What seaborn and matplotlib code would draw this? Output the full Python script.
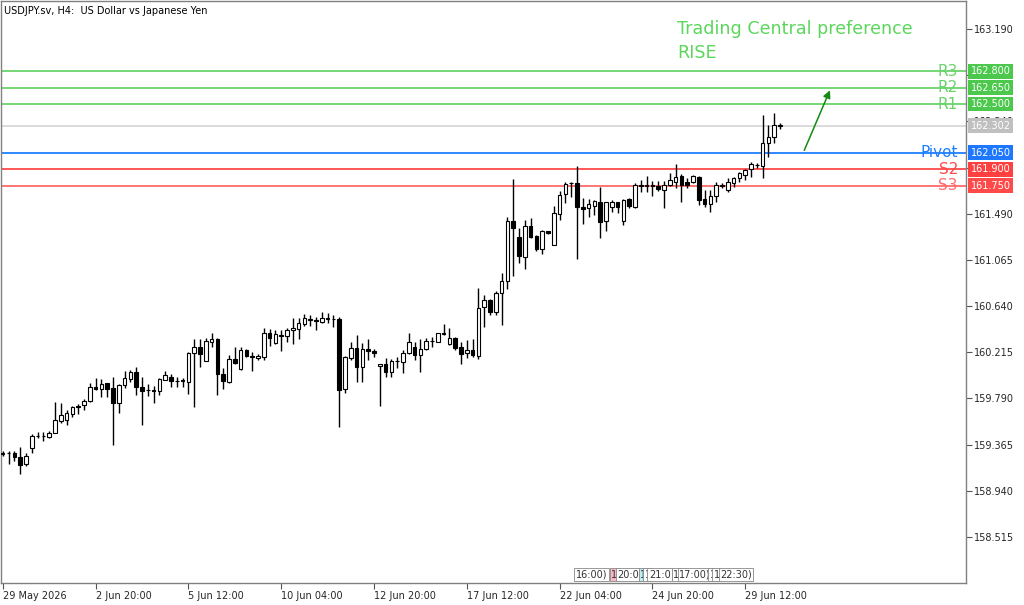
import numpy as np
import pandas as pd
import matplotlib
matplotlib.use("Agg")
import matplotlib.pyplot as plt
import seaborn as sns

# H4 candles
opens = [159.283, 159.285, 159.285, 159.248, 159.187, 159.334, 159.445, 159.449, 159.433, 159.475,
         159.585, 159.592, 159.647, 159.723, 159.727, 159.769, 159.898, 159.874, 159.930, 159.883,
         159.745, 159.914, 159.966, 160.034, 159.895, 159.868, 159.872, 159.856, 159.960, 159.985,
         159.955, 159.957, 159.942, 160.211, 160.266, 160.137, 160.312, 160.340, 160.015, 159.944,
         160.153, 160.058, 160.233, 160.184, 160.160, 160.174, 160.390, 160.298, 160.374, 160.365,
         160.420, 160.432, 160.478, 160.521, 160.512, 160.496, 160.526, 160.521, 160.518, 159.874,
         160.160, 160.252, 160.082, 160.245, 160.227, 160.091, 160.107, 160.036, 160.135, 160.128,
         160.211, 160.266, 160.190, 160.242, 160.319, 160.312, 160.390, 160.288, 160.344, 160.266,
         160.206, 160.236, 160.184, 160.629, 160.696, 160.586, 160.763, 160.874, 161.426, 161.273,
         161.095, 161.377, 161.285, 161.163, 161.328, 161.202, 161.488, 161.672, 161.770, 161.770,
         161.555, 161.540, 161.564, 161.601, 161.426, 161.552, 161.595, 161.423, 161.623, 161.555,
         161.748, 161.745, 161.752, 161.748, 161.708, 161.754, 161.785, 161.840, 161.779, 161.779,
         161.831, 161.623, 161.580, 161.656, 161.748, 161.708, 161.770, 161.816, 161.847, 161.902,
         161.939, 161.932, 162.138, 162.199, 162.302]
highs = [159.306, 159.309, 159.306, 159.346, 159.285, 159.463, 159.484, 159.484, 159.488, 159.755,
         159.751, 159.684, 159.721, 159.739, 159.788, 159.935, 159.976, 159.966, 159.935, 159.985,
         159.923, 160.046, 160.052, 160.077, 159.985, 159.923, 159.905, 159.976, 160.043, 160.015,
         159.985, 159.978, 160.218, 160.340, 160.334, 160.349, 160.390, 160.346, 160.068, 160.187,
         160.261, 160.266, 160.248, 160.218, 160.196, 160.436, 160.427, 160.420, 160.420, 160.436,
         160.528, 160.528, 160.567, 160.558, 160.542, 160.583, 160.579, 160.558, 160.542, 160.184,
         160.307, 160.374, 160.298, 160.334, 160.242, 160.107, 160.160, 160.150, 160.174, 160.236,
         160.390, 160.312, 160.334, 160.344, 160.358, 160.395, 160.475, 160.436, 160.358, 160.312,
         160.328, 160.334, 160.804, 160.742, 160.705, 160.782, 160.947, 161.457, 161.807, 161.356,
         161.432, 161.448, 161.294, 161.340, 161.334, 161.561, 161.702, 161.785, 161.785, 161.929,
         161.632, 161.623, 161.617, 161.739, 161.601, 161.617, 161.601, 161.626, 161.632, 161.770,
         161.800, 161.840, 161.791, 161.791, 161.791, 161.862, 161.948, 161.853, 161.822, 161.847,
         161.837, 161.708, 161.708, 161.779, 161.776, 161.816, 161.831, 161.877, 161.902, 161.969,
         161.954, 162.399, 162.307, 162.414, 162.322]
lows = [159.260, 159.187, 159.217, 159.092, 159.168, 159.285, 159.423, 159.401, 159.423, 159.472,
        159.561, 159.546, 159.622, 159.644, 159.684, 159.760, 159.872, 159.801, 159.801, 159.362,
        159.659, 159.883, 159.944, 159.819, 159.543, 159.813, 159.745, 159.822, 159.957, 159.898,
        159.893, 159.898, 159.831, 159.714, 160.077, 160.135, 160.261, 159.822, 159.880, 159.930,
        160.107, 160.056, 160.169, 160.046, 160.144, 160.144, 160.273, 160.296, 160.227, 160.312,
        160.291, 160.340, 160.457, 160.457, 160.420, 160.482, 160.482, 160.450, 159.530, 159.837,
        160.144, 159.944, 159.944, 160.144, 160.174, 159.721, 159.990, 159.985, 160.068, 160.021,
        160.199, 160.144, 160.036, 160.236, 160.266, 160.310, 160.374, 160.282, 160.236, 160.104,
        160.165, 160.174, 160.150, 160.450, 160.558, 160.558, 160.466, 160.795, 160.917, 161.034,
        160.979, 161.264, 161.150, 161.119, 161.304, 161.200, 161.432, 161.586, 161.647, 161.071,
        161.393, 161.463, 161.478, 161.267, 161.334, 161.509, 161.494, 161.386, 161.540, 161.543,
        161.687, 161.687, 161.653, 161.699, 161.540, 161.750, 161.724, 161.601, 161.724, 161.770,
        161.570, 161.555, 161.509, 161.601, 161.724, 161.693, 161.739, 161.785, 161.800, 161.831,
        161.908, 161.816, 162.015, 162.138, 162.270]
closes = [159.288, 159.285, 159.248, 159.180, 159.263, 159.445, 159.449, 159.445, 159.475, 159.592,
          159.635, 159.653, 159.714, 159.714, 159.769, 159.898, 159.877, 159.923, 159.877, 159.745,
          159.911, 159.976, 160.034, 159.893, 159.856, 159.865, 159.863, 159.966, 160.003, 159.948,
          159.951, 159.951, 160.211, 160.266, 160.196, 160.319, 160.340, 160.015, 159.953, 160.150,
          160.114, 160.233, 160.184, 160.169, 160.181, 160.390, 160.344, 160.383, 160.369, 160.420,
          160.436, 160.487, 160.528, 160.512, 160.503, 160.528, 160.530, 160.518, 159.868, 160.169,
          160.252, 160.082, 160.242, 160.227, 160.211, 160.104, 160.036, 160.135, 160.132, 160.211,
          160.312, 160.190, 160.242, 160.319, 160.316, 160.390, 160.380, 160.344, 160.252, 160.196,
          160.236, 160.190, 160.625, 160.696, 160.583, 160.763, 160.874, 161.426, 161.356, 161.101,
          161.377, 161.279, 161.163, 161.334, 161.310, 161.500, 161.662, 161.764, 161.773, 161.549,
          161.536, 161.580, 161.610, 161.414, 161.595, 161.595, 161.549, 161.617, 161.564, 161.754,
          161.752, 161.754, 161.745, 161.718, 161.754, 161.800, 161.831, 161.754, 161.754, 161.837,
          161.617, 161.580, 161.656, 161.754, 161.752, 161.779, 161.822, 161.862, 161.893, 161.945,
          161.941, 162.138, 162.199, 162.307, 162.302]

tick_labels = ["29 May 2026", "2 Jun 20:00", "5 Jun 12:00", "10 Jun 04:00", "12 Jun 20:00",
               "17 Jun 12:00", "22 Jun 04:00", "24 Jun 20:00", "29 Jun 12:00"]
bars_per_tick = 16

level_names = ["R3", "R2", "R1", "Pivot", "S2", "S3"]
level_values = [162.800, 162.650, 162.500, 162.050, 161.900, 161.750]
line_colors = ["#6ad36a", "#6ad36a", "#6ad36a", "#1f7fff", "#ff4a4a", "#ff6a6a"]
box_colors = ["#4cc84c", "#4cc84c", "#4cc84c", "#1e78ff", "#ff4040", "#ff4a4a"]
last_price = 162.302

price_ticks = np.round(np.arange(158.515, 163.2, 0.425), 3)

# economic calendar flags along the bottom (label, bar position, fill)
events = [("16:00)", 98.8, "white"), ("1", 104.9, "#f7b9c4"), ("20:0", 105.9, "white"),
          ("1", 109.9, "#b9eef2"), ("1", 110.7, "white"), ("21:0", 111.4, "white"),
          ("1", 115.6, "white"), ("17:00)", 116.6, "white"), ("1", 121.9, "white"),
          ("1", 122.6, "white"), ("22:30)", 123.7, "white")]

df = pd.DataFrame({"o": opens, "h": highs, "l": lows, "c": closes})
df["i"] = np.arange(len(df))
df["up"] = df["c"] >= df["o"]
df["bottom"] = df[["o", "c"]].min(axis=1)
df["height"] = (df["c"] - df["o"]).abs().clip(lower=0.004)

sns.set_theme(style="white")
plt.rcParams["font.family"] = ["DejaVu Sans"]

fig = plt.figure(figsize=(10.24, 6.05), dpi=100)
ax = fig.add_axes([1 / 1024, 22 / 605, 965 / 1024, 582 / 605])

ax.vlines(df["i"], df["l"], df["h"], color="black", lw=1, zorder=3)
ax.bar(df["i"], df["height"], bottom=df["bottom"], width=0.62,
       color=np.where(df["up"], "white", "black"), edgecolor="black", lw=0.8, zorder=4)

ytr = ax.get_yaxis_transform()
ax.axhline(last_price, color="#d4d4d4", lw=1.2, zorder=1)
ax.text(1.0047, last_price, f"{last_price:.3f}", transform=ytr, ha="left", va="center",
        fontsize=7, color="white", clip_on=False, zorder=6,
        bbox=dict(boxstyle="square,pad=0.25", fc="#c0c0c0", ec="none"))

for name, val, lc, bc in zip(level_names, level_values, line_colors, box_colors):
    ax.axhline(val, color=lc, lw=1.3, zorder=2)
    ax.text(0.9917, val, name, transform=ytr, ha="right", va="center",
            fontsize=11, color=lc, zorder=5)
    ax.text(1.0047, val, f"{val:.3f}", transform=ytr, ha="left", va="center",
            fontsize=7, color="white", clip_on=False, zorder=6,
            bbox=dict(boxstyle="square,pad=0.25", fc=bc, ec="none"))

# preference arrow from pivot towards R2
start = len(df) + 3
ax.annotate("", xy=(start + 4.8, level_values[1]), xytext=(start, level_values[3]),
            arrowprops=dict(arrowstyle="-|>", color="#138a13", lw=1.1, mutation_scale=11),
            zorder=5)

xtr = ax.get_xaxis_transform()
for label, pos, fc in events:
    ax.text(pos, 0.014, label, transform=xtr, ha="left", va="center", fontsize=7,
            color="#333333", zorder=6,
            bbox=dict(boxstyle="square,pad=0.15", fc=fc, ec="#888888", lw=0.6))

ax.set_xlim(-0.293, 166.07)
ax.set_ylim(158.092, 163.448)

ax.set_xticks(np.arange(len(tick_labels)) * bars_per_tick)
ax.set_xticklabels(tick_labels, ha="left")
ax.yaxis.tick_right()
ax.set_yticks(price_ticks)
ax.set_yticklabels([f"{v:.3f}" for v in price_ticks])
ax.tick_params(axis="x", bottom=True, direction="out", length=4, width=0.8,
               color="#555555", labelsize=7, pad=2)
ax.tick_params(axis="y", right=True, left=False, direction="out", length=4, width=0.8,
               color="#555555", labelsize=7, pad=2)
for s in ax.spines.values():
    s.set_color("#808080")
    s.set_linewidth(1)

fig.text(4 / 1024, 1 - 11 / 605, "USDJPY.sv, H4:  US Dollar vs Japanese Yen",
         fontsize=7, va="center", ha="left", color="black")
fig.text(677 / 1024, 1 - 29 / 605, "Trading Central preference",
         fontsize=12.6, va="center", ha="left", color="#5cd65c")
fig.text(677 / 1024, 1 - 53 / 605, "RISE",
         fontsize=12.6, va="center", ha="left", color="#5cd65c")

fig.savefig("out.png", dpi=100)
